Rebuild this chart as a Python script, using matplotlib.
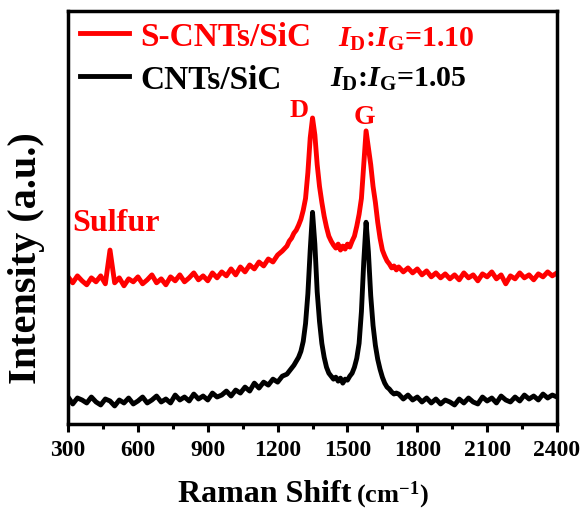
import matplotlib
matplotlib.use('Agg')
import matplotlib.pyplot as plt
from matplotlib.lines import Line2D

plt.rcParams['font.family'] = 'Liberation Serif'
plt.rcParams['font.weight'] = 'bold'
plt.rcParams['mathtext.fontset'] = 'custom'
plt.rcParams['mathtext.rm'] = 'Liberation Serif:bold'
plt.rcParams['mathtext.bf'] = 'Liberation Serif:bold'
plt.rcParams['mathtext.it'] = 'Liberation Serif:italic:bold'

## Raman shift grid (cm-1): coarse on the flat parts, finer across the D/G bands
shift = list(range(300, 1240, 20)) + list(range(1240, 1720, 10)) + list(range(1720, 2401, 20))

## CNTs/SiC (black)
cnt_sic = [24, 17, 23, 21, 18, 24, 19, 16, 22, 20, 15, 21, 18, 23, 17, 20,
           24, 18, 21, 25, 19, 22, 18, 26, 21, 24, 20, 27, 22, 25, 21, 28,
           24, 26, 30, 25, 31, 28, 34, 30, 38, 33, 39, 36, 42, 39, 45,
           # 1240 - 1710
           47, 50, 53, 56, 60, 64, 70, 80, 98, 128, 172, 210, 178, 130, 100, 78,
           64, 54, 48, 45, 42, 44, 40, 43, 38, 42, 41, 45, 48, 54, 63, 78,
           110, 160, 200, 170, 126, 96, 76, 62, 52, 44, 38, 34, 32, 29, 27, 28,
           # 1720 - 2400
           27, 22, 26, 21, 24, 19, 23, 18, 22, 17, 21, 19, 16, 22, 18, 23,
           19, 17, 24, 20, 23, 18, 25, 21, 19, 24, 20, 26, 22, 25, 21, 27,
           23, 26, 24]

## S-CNTs/SiC (red), already offset upward as in the figure
s_cnt_sic = [145, 139, 146, 141, 137, 144, 140, 146, 138, 172, 139, 144, 136, 143, 140, 145,
             138, 142, 147, 139, 143, 137, 145, 141, 147, 140, 144, 149, 142, 146, 141, 149,
             144, 150, 146, 153, 147, 155, 150, 157, 153, 160, 156, 163, 160, 167, 171,
             # 1240 - 1710
             176, 181, 184, 189, 192, 197, 203, 212, 224, 250, 285, 305, 288, 258, 236, 220,
             206, 195, 186, 181, 177, 174, 178, 172, 176, 173, 178, 175, 181, 186, 196, 208,
             224, 258, 292, 275, 258, 236, 220, 200, 184, 172, 166, 161, 158, 154, 156, 152,
             # 1720 - 2400
             155, 150, 154, 149, 153, 147, 151, 145, 149, 144, 148, 143, 147, 142, 149, 144,
             147, 141, 148, 145, 150, 143, 147, 138, 146, 143, 149, 144, 147, 142, 148, 145,
             150, 146, 149]

x_ticks = [300, 600, 900, 1200, 1500, 1800, 2100, 2400]

fig = plt.figure(figsize=(5.82, 5.10), dpi=100)
ax = fig.add_axes([0.117, 0.167, 0.840, 0.810])

ax.plot(shift, s_cnt_sic, color='#ff0000', lw=3.5)
ax.plot(shift, cnt_sic, color='black', lw=3.5)

ax.set_xlim(300, 2400)
ax.set_ylim(-3, 413)
ax.set_xticks(x_ticks)
ax.set_xticks(range(450, 2400, 300), minor=True)
ax.set_yticks([])
ax.tick_params(axis='x', which='major', direction='out', length=6, width=2.2, labelsize=17, pad=5)
ax.tick_params(axis='x', which='minor', direction='out', length=3.5, width=2.2)
for sp in ax.spines.values():
    sp.set_linewidth(2.5)

ax.set_ylabel('Intensity (a.u.)', fontsize=29, fontweight='bold')
ax.yaxis.set_label_coords(-0.047, 0.404)
fig.text(352 / 582, 8 / 510, 'Raman Shift', fontsize=23, fontweight='bold', ha='right', va='baseline')
fig.text(356 / 582, 8 / 510, '(cm$^{-1}$)', fontsize=19, fontweight='bold', ha='left', va='baseline')

## legend and ratios
handles = [Line2D([], [], color='#ff0000', lw=3.5), Line2D([], [], color='black', lw=3.5)]
leg = ax.legend(handles, ['S-CNTs/SiC', 'CNTs/SiC'], loc='upper left', bbox_to_anchor=(0.008, 0.995),
                frameon=False, fontsize=24, handlelength=1.45, handletextpad=0.36,
                labelspacing=0.36, borderaxespad=0.1, borderpad=0.15)
for t, c in zip(leg.get_texts(), ['#ff0000', 'black']):
    t.set_color(c)
ax.text(0.552, 0.915, r'$I_{\mathrm{D}}$:$I_{\mathrm{G}}$=1.10', transform=ax.transAxes,
        fontsize=21.5, color='#ff0000', va='baseline')
ax.text(0.536, 0.818, r'$I_{\mathrm{D}}$:$I_{\mathrm{G}}$=1.05', transform=ax.transAxes,
        fontsize=21.5, color='black', va='baseline')

## peak labels
ax.text(1292, 314, 'D', fontsize=19, color='#ff0000', ha='center', va='center')
ax.text(1573, 306, 'G', fontsize=20, color='#ff0000', ha='center', va='center')
ax.text(317, 200, 'Sulfur', fontsize=23, color='#ff0000', ha='left', va='center')

fig.savefig('out.png', dpi=100)
